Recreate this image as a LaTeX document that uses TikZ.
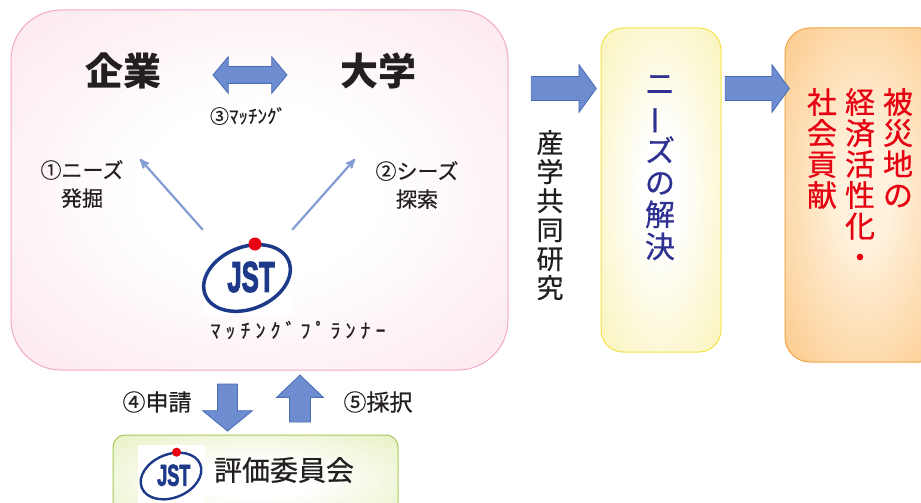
\documentclass[tikz,border=0pt]{standalone}
\usepackage{fontspec}
\setmainfont{Noto Sans CJK JP}[UprightFeatures={FakeBold=0.6}]
\newfontfamily\logofont{Liberation Sans Bold}[FakeBold=3]
\newfontfamily\widekana{Noto Sans CJK JP}[LetterSpace=25, FakeBold=0.6]
\usepackage{graphicx}
\usepackage{xcolor}
\usetikzlibrary{positioning}
\usetikzlibrary{shapes.arrows}
\usetikzlibrary{arrows}
\usetikzlibrary{calc}

\definecolor{ink}{HTML}{231F20}
\definecolor{pinkline}{HTML}{F2A7CC}
\definecolor{pinkfill}{HTML}{FADBE2}
\definecolor{yellowline}{HTML}{F3E34A}
\definecolor{yellowfill}{HTML}{F9F2B0}
\definecolor{orangeline}{HTML}{F2A546}
\definecolor{orangefill}{HTML}{FBC27A}
\definecolor{orangecore}{HTML}{FFF1DC}
\definecolor{greenline}{HTML}{A7C95C}
\definecolor{greenfill}{HTML}{DDEAA8}
\definecolor{arrowfill}{HTML}{6D8DD0}
\definecolor{arrowline}{HTML}{4A6DB6}
\definecolor{feelerblue}{HTML}{849CD4}
\definecolor{jstblue}{HTML}{1D3A8A}
\definecolor{jstred}{HTML}{E60012}
\definecolor{solveblue}{HTML}{2E3192}
\definecolor{goalred}{HTML}{E60012}

\pgfdeclareradialshading{pinkglow}{\pgfpoint{0bp}{0bp}}{color(0bp)=(white); color(12bp)=(white); color(48bp)=(pinkfill); color(100bp)=(pinkfill)}
\pgfdeclareradialshading{yellowglow}{\pgfpoint{0bp}{0bp}}{color(0bp)=(white); color(8bp)=(white); color(40bp)=(yellowfill); color(100bp)=(yellowfill)}
\pgfdeclareradialshading{orangeglow}{\pgfpoint{0bp}{0bp}}{color(0bp)=(orangecore); color(8bp)=(orangecore); color(42bp)=(orangefill); color(100bp)=(orangefill)}
\pgfdeclareradialshading{greenglow}{\pgfpoint{0bp}{0bp}}{color(0bp)=(white); color(10bp)=(white); color(48bp)=(greenfill); color(100bp)=(greenfill)}

\tikzset{
  jst logo/.pic={
    \draw[jstblue, line width=#1, rotate=22] (0,0) ellipse (45 and 31);
    \node[text=jstblue, inner sep=0pt, xscale=.6, transform shape,
      font=\logofont\fontsize{43}{43}\selectfont] at (4,-1) {JST};
    \fill[jstred] (8,-34) circle (6.5);
  }
}

\begin{document}
\begin{tikzpicture}[x=1pt, y=-1pt, >=stealth',
  panel/.style={draw, shade, line width=1pt, rounded corners=#1, inner sep=0pt},
  word/.style={text=ink, inner sep=0pt, font=\bfseries\fontsize{38}{40}\selectfont},
  caption/.style={text=ink, inner sep=0pt, align=center, font=\fontsize{21}{28}\selectfont},
  column/.style={inner sep=0pt, align=center, anchor=north},
  feeler/.style={->, draw=feelerblue, line width=2.2pt},
  blockarrow/.style={single arrow, draw=arrowline, fill=arrowfill, line width=0.8pt,
    inner xsep=0pt, single arrow head indent=0pt},
  logobox/.style={fill=white, inner sep=0pt}]

  \useasboundingbox (0,0) rectangle (921,503);

  % matching area
  \node[panel=50pt, draw=pinkline, shading=pinkglow, minimum width=497pt, minimum height=360pt] (matching) at (259.5,190) {};
  \node[word] (kigyo) at (123,71) {企業};
  \node[word] (daigaku) at (378,71) {大学};
  \node[double arrow, draw=arrowline, fill=arrowfill, line width=0.8pt, inner xsep=0pt, inner ysep=8pt,
    minimum height=74pt, double arrow head extend=10pt, double arrow tip angle=100.4,
    double arrow head indent=0pt] (matchArrow) at (250,75) {};
  \node[text=ink, inner sep=0pt, font=\fontsize{19}{19}\selectfont] (matchLabel) at (248,116) {③ﾏｯﾁﾝｸﾞ};
  \node[caption] (needs) at (82,184) {①ニーズ\\発掘};
  \node[caption] (seeds) at (417,185) {②シーズ\\探索};

  \node[logobox, minimum width=89pt, minimum height=77pt] (planner) at (247.5,276.5) {};
  \pic at (247,278) {jst logo=3.5pt};
  \node[text=ink, inner sep=0pt, font=\widekana\fontsize{20}{20}\selectfont] (plannerLabel) at (298,330) {ﾏｯﾁﾝｸﾞﾌﾟﾗﾝﾅｰ};

  \coordinate (needsTip) at (140,159);
  \coordinate (seedsTip) at (355,159);
  \draw[feeler] ([yshift=8pt]planner.north west) -- (needsTip);
  \draw[feeler] ([yshift=8pt]planner.north east) -- (seedsTip);

  % research and outcome
  \node[panel=22pt, draw=yellowline, shading=yellowglow, minimum width=120pt, minimum height=324pt] (solve) at (661,190) {};
  \node[panel=25pt, draw=orangeline, shading=orangeglow, minimum width=160pt, minimum height=334pt] (goal) at (865,195) {};

  \node[blockarrow, minimum height=65pt, inner ysep=11.5pt, single arrow head extend=12pt,
    single arrow tip angle=108] (toSolve) at (559.5,88.5) {};
  \node[blockarrow, minimum height=64pt, inner ysep=11.5pt, single arrow head extend=12pt,
    single arrow tip angle=108] (toGoal) at (753,88.5) {};

  \node[column, text=ink, font=\fontsize{27}{29}\selectfont] (joint) at (550,130) {産\\学\\共\\同\\研\\究};
  \node[column, text=solveblue, font=\fontsize{30}{32}\selectfont] (solveText) at (660,75)
    {ニ\\\rotatebox[origin=c]{90}{ー}\\ズ\\の\\解\\決};
  \node[column, text=goalred, font=\fontsize{30}{31}\selectfont] (goalA) at (898,88) {被\\災\\地\\の};
  \node[column, text=goalred, font=\fontsize{30}{31}\selectfont] (goalB) at (860,88) {経\\済\\活\\性\\化\\・};
  \node[column, text=goalred, font=\fontsize{30}{31}\selectfont] (goalC) at (822,88) {社\\会\\貢\\献};

  % review
  \node[blockarrow, rotate=-90, minimum height=47pt, inner ysep=9.5pt, single arrow head extend=15pt,
    single arrow tip angle=101.5] (apply) at (227.5,403.5) {};
  \node[blockarrow, rotate=90, minimum height=47pt, inner ysep=10pt, single arrow head extend=13pt,
    single arrow tip angle=92.5] (adopt) at (300,403.5) {};
  \node[caption, font=\fontsize{23}{23}\selectfont] (applyLabel) at (157,402) {④申請};
  \node[caption, font=\fontsize{23}{23}\selectfont] (adoptLabel) at (378,402) {⑤採択};

  \node[panel=12pt, draw=greenline, shading=greenglow, minimum width=285pt, minimum height=90pt] (review) at (255.5,480) {};
  \node[logobox, minimum width=67pt, minimum height=62pt] (reviewLogo) at (171.5,476) {};
  \pic[scale=.7] at (171,476) {jst logo=2.4pt};
  \node[text=ink, inner sep=0pt, font=\fontsize{28}{28}\selectfont] (reviewLabel) at (284,470) {評価委員会};
\end{tikzpicture}
\end{document}
